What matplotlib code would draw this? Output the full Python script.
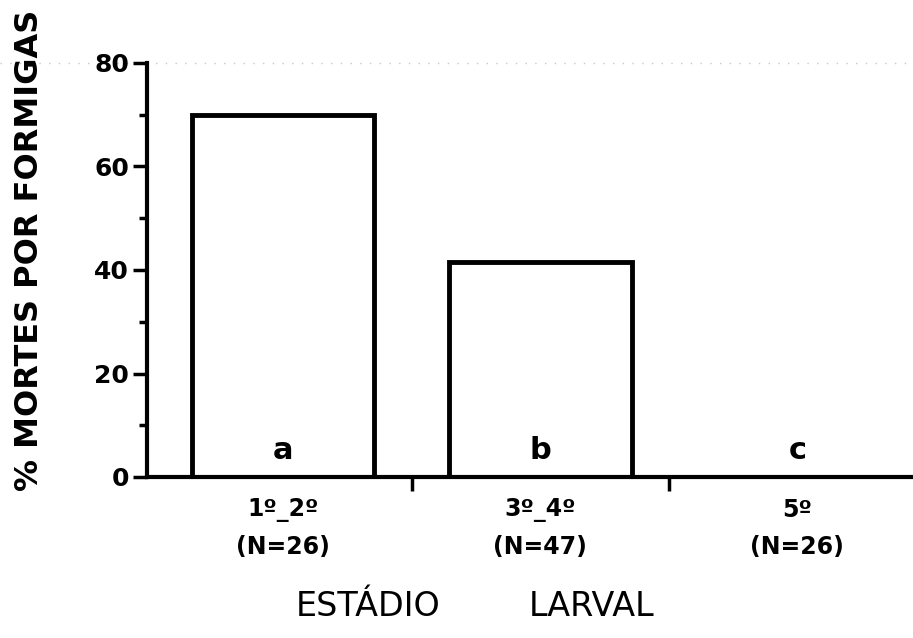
import matplotlib
matplotlib.use("Agg")
import matplotlib.pyplot as plt
from matplotlib.lines import Line2D
import numpy as np

# data
categories = ["1º_2º\n(N=26)", "3º_4º\n(N=47)", "5º\n(N=26)"]
mortes_pct = [70, 41.5, 0]
letters = ["a", "b", "c"]
yticks = [0, 20, 40, 60, 80]

plt.rcParams['font.family'] = ['DejaVu Sans']

fig = plt.figure(figsize=(9.13, 6.38), dpi=100)
ax = fig.add_axes([147/913, 1-477/638, 1-147/913, (477-63)/638])
ax.patch.set_alpha(0)

x = np.arange(len(categories))
ax.bar(x, mortes_pct, width=0.71, facecolor='white', edgecolor='black',
       linewidth=3.5, zorder=2)

for xi, lab in zip(x, letters):
    ax.text(xi, 5.2, lab, ha='center', va='center', fontsize=22,
            fontweight='bold', color='black', zorder=3)

ax.set_xlim(-0.53, 2.45)
ax.set_ylim(0, 80)

for s in ['top', 'right']:
    ax.spines[s].set_visible(False)
for s in ['left', 'bottom']:
    ax.spines[s].set_linewidth(3)
    ax.spines[s].set_color('black')

ax.set_yticks(yticks)
ax.set_yticklabels([str(v) for v in yticks], fontsize=18, fontweight='bold')
ax.set_yticks([10, 30, 50, 70], minor=True)
ax.tick_params(axis='y', which='major', direction='out', length=10, width=2.5, pad=3)
ax.tick_params(axis='y', which='minor', direction='out', length=6, width=2.5)

ax.set_xticks(x)
ax.set_xticklabels(categories, fontsize=17, fontweight='bold', linespacing=1.7)
ax.set_xticks([0.5, 1.5], minor=True)
ax.tick_params(axis='x', which='major', length=0, pad=15)
ax.tick_params(axis='x', which='minor', direction='out', length=10, width=2.5)

fig.text(30/913, 1-250/638, "% MORTES POR FORMIGAS", rotation=90,
         ha='center', va='center', fontsize=23, fontweight='bold')

fig.text(368/913, 1-606/638, "ESTÁDIO", ha='center', va='center', fontsize=24)
fig.text(592/913, 1-606/638, "LARVAL", ha='center', va='center', fontsize=24)

# faint dotted scan line at top
fig.add_artist(Line2D([0, 1], [1-63/638, 1-63/638], transform=fig.transFigure,
                      color='#c8c8c8', linestyle=(0, (1, 6)), linewidth=1.0, zorder=0))

fig.savefig("out.png", dpi=100)
